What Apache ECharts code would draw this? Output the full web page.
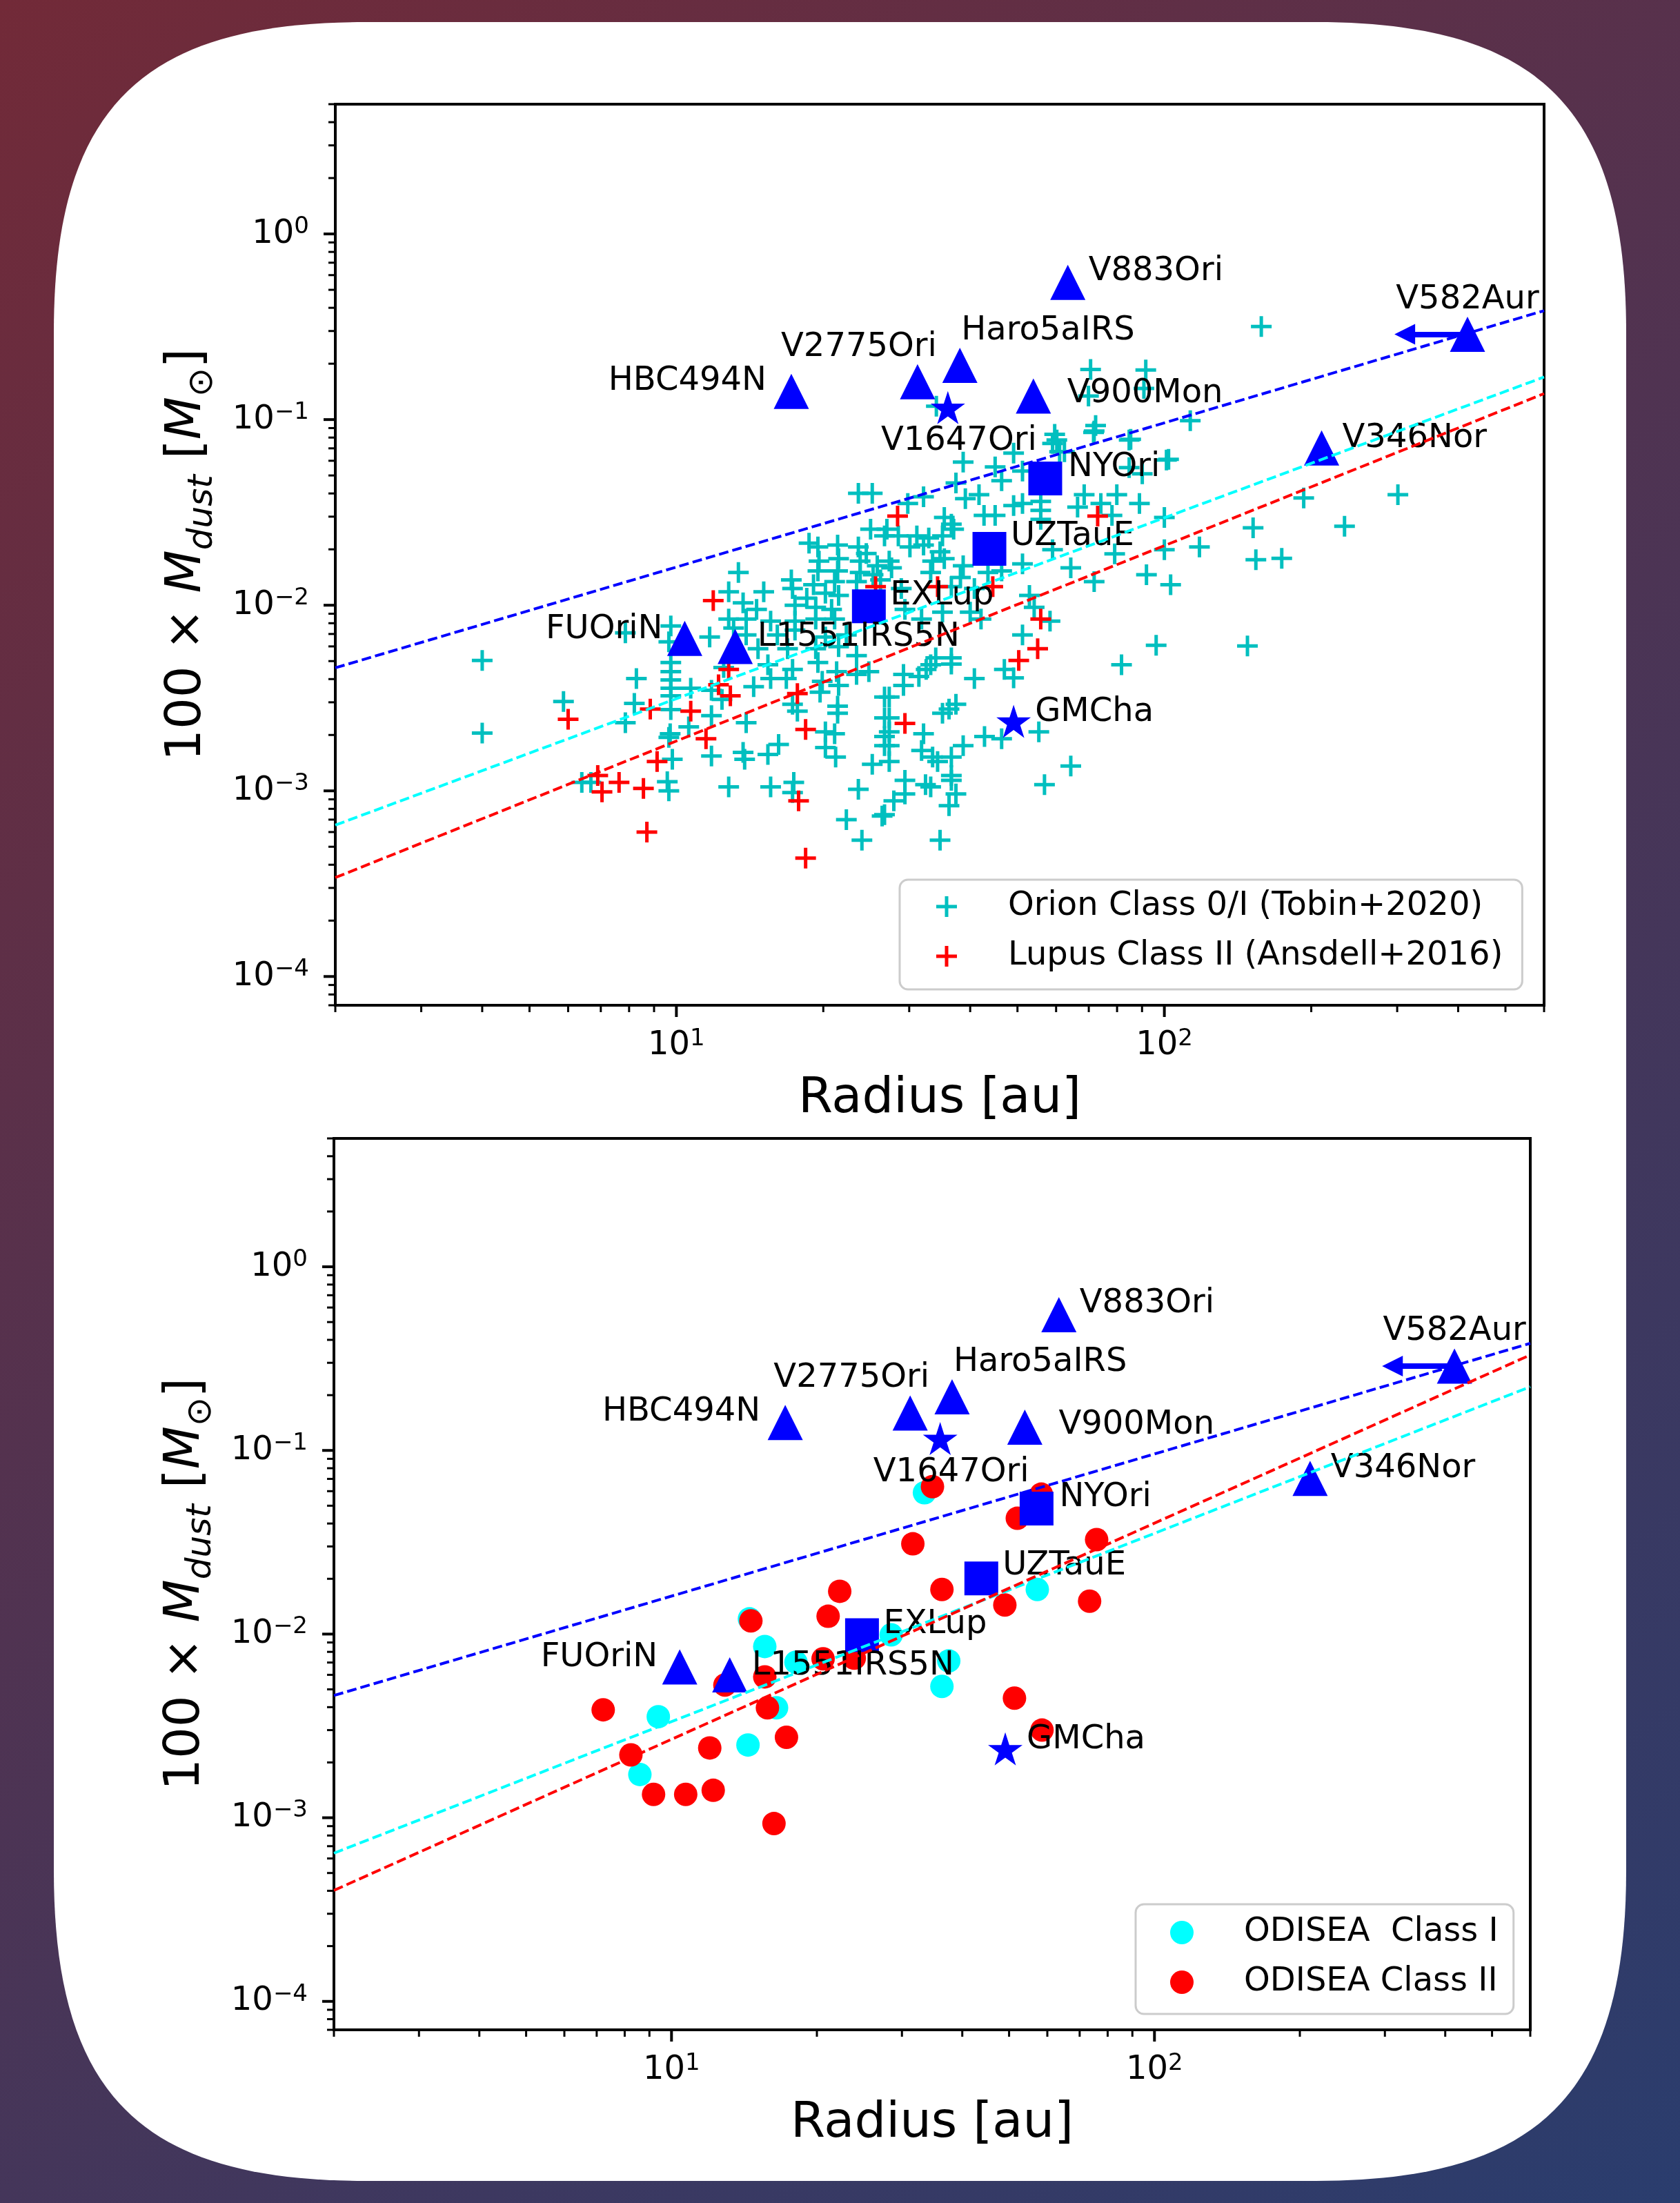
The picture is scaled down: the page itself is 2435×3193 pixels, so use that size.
<!DOCTYPE html>
<html>
<head>
<meta charset="utf-8">
<script src="https://cdn.jsdelivr.net/npm/echarts@6/dist/echarts.min.js"></script>
<style>
  html, body { margin: 0; padding: 0; }
  body {
    width: 2435px; height: 3193px; position: relative; overflow: hidden;
    background: linear-gradient(142.7deg, #722a38 0%, #2a3d6e 100%);
  }
  #card { position: absolute; left: 0; top: 0; }
  #chart { position: absolute; left: 0; top: 0; width: 2435px; height: 3193px; }
</style>
</head>
<body>
<svg id="card" width="2435" height="3193">
  <path fill="#ffffff" d="M528,32 H1907 C2231,32 2357,158 2357,482 V2711 C2357,3035 2231,3161 1907,3161 H528 C204,3161 78,3035 78,2711 V482 C78,158 204,32 528,32 Z"/>
</svg>
<div id="chart"></div>
<script>
// ---- data (radius [au], 100 x Mdust [Msun]) ----
const xMin = 2, xMax = 600;
const yMin = 7e-5, yMax = 5;

const orionPoints = [
  [23.6,0.0401],[25.2,0.0401],[25.0,0.0257],[26.7,0.0236],[18.7,0.0216],[19.5,0.0206],[21.4,0.0211],[23.6,0.0206],[24.5,0.0190],[19.6,0.0173],
  [21.5,0.0178],[23.8,0.0173],[25.8,0.0163],[19.5,0.0153],[21.4,0.0153],[23.8,0.0150],[25.3,0.0146],[13.4,0.0150],[17.2,0.0137],[19.1,0.0129],
  [21.1,0.0134],[23.4,0.0134],[26.2,0.0137],[12.8,0.0118],[15.1,0.0118],[17.3,0.0123],[18.5,0.0109],[20.2,0.0116],[21.5,0.0113],[13.7,0.0103],
  [14.6,0.0095],[17.5,0.0100],[19.3,0.00975],[20.8,0.0095],[12.8,0.00843],[13.9,0.00843],[15.6,0.00821],[17.5,0.00821],[19.3,0.00843],[21.1,0.00843],
  [9.74,0.00773],[7.86,0.0071],[11.7,0.00674],[13.1,0.00754],[13.9,0.00692],[16.1,0.00692],[17.5,0.00734],[20.2,0.00674],[22.3,0.00692],[9.65,0.00635],
  [14.7,0.00583],[16.9,0.00583],[19.3,0.00583],[21.5,0.00598],[23.4,0.00535],[8.28,0.00403],[9.74,0.00491],[9.74,0.00439],[9.74,0.00396],[9.74,0.00357],
  [9.74,0.00325],[9.74,0.00274],[8.2,0.00296],[7.86,0.00233],[10.7,0.00357],[9.71,0.00203],[10.6,0.00221],[11.8,0.00254],[11.8,0.00348],[12.4,0.00311],
  [12.5,0.00462],[14.4,0.00364],[15.4,0.00478],[15.6,0.00403],[16.8,0.00403],[17.3,0.00451],[17.3,0.00293],[17.7,0.00269],[13.9,0.00233],[19.5,0.00491],
  [19.9,0.00389],[19.7,0.0034],[21.3,0.00439],[21.5,0.0037],[23.4,0.00424],[24.8,0.00439],[21.4,0.00286],[21.4,0.00262],[20.2,0.00208],[21.1,0.00203],
  [20.2,0.00171],[21.2,0.00152],[26.7,0.0032],[26.7,0.00247],[26.7,0.00196],[26.7,0.00175],[25.2,0.00139],[9.81,0.00148],[11.8,0.00154],[13.7,0.00161],
  [13.8,0.00148],[15.4,0.00157],[16.2,0.00178],[9.58,0.00112],[9.65,0.001],[6.68,0.00111],[12.8,0.00105],[15.6,0.00105],[17.4,0.00111],[17.3,0.000979],
  [23.6,0.00102],[22.3,0.0007],[24.0,0.000542],[26.4,0.000731],
  [59.6,0.0832],[71.8,0.0868],[85.3,0.0783],[101,0.0605],[38.7,0.059],[45.0,0.0556],[49.1,0.066],[59.0,0.0744],[61.0,0.0671],[90.1,0.051],
  [46.4,0.0468],[51.2,0.0528],[37.4,0.0456],[41.7,0.0394],[32.1,0.0384],[29.8,0.0353],[39.1,0.0375],[51.2,0.0353],[49.1,0.0344],[55.8,0.0362],
  [55.8,0.0324],[68.5,0.0394],[79.9,0.0394],[88.9,0.0353],[66.4,0.0338],[74.1,0.0353],[78.1,0.0305],[100,0.0297],[42.7,0.0305],[45.0,0.0305],
  [55.8,0.029],[35.4,0.0297],[36.6,0.0273],[27.0,0.0257],[28.5,0.0236],[31.1,0.0236],[32.9,0.023],[35.1,0.0236],[37.0,0.0257],[30.1,0.0206],
  [32.1,0.0211],[34.7,0.0194],[27.3,0.0173],[27.6,0.0159],[33.5,0.0173],[35.4,0.0178],[38.7,0.0163],[33.2,0.015],[38.2,0.0141],[43.5,0.015],
  [46.4,0.0153],[51.2,0.0167],[59.0,0.0199],[64.3,0.0159],[71.8,0.0134],[79.1,0.0189],[100,0.0199],[91.9,0.0146],[103,0.0129],[28.9,0.0123],
  [36.6,0.0126],[40.8,0.0123],[52.9,0.0113],[54.1,0.00975],[29.4,0.0095],[31.8,0.00843],[35.1,0.00918],[40.0,0.00918],[42.1,0.00843],[51.2,0.00692],
  [58.3,0.00821],[96.2,0.00608],[34.0,0.00521],[36.6,0.00521],[29.2,0.00424],[29.2,0.0037],[31.4,0.00413],[32.5,0.00451],[33.2,0.00478],[36.6,0.00482],
  [40.8,0.00403],[47.0,0.00451],[49.1,0.00406],[81.7,0.00478],[27.3,0.0032],[27.3,0.00247],[27.3,0.00208],[27.3,0.00175],[27.3,0.00144],[35.1,0.00262],
  [36.2,0.00276],[37.4,0.00293],[32.1,0.00203],[31.8,0.00165],[33.5,0.00152],[34.3,0.00144],[36.6,0.00152],[38.7,0.00175],[42.8,0.00196],[46.4,0.00191],
  [55.3,0.00208],[36.6,0.00121],[36.6,0.00114],[29.4,0.00114],[32.4,0.00108],[33.2,0.00105],[37.4,0.000962],[36.2,0.000832],[29.4,0.000962],[27.9,0.000883],
  [26.7,0.000744],[34.7,0.000542],[56.8,0.00108],[64.3,0.00136],
  [158,0.317],[70.6,0.186],[91.6,0.185],[69.9,0.134],[90.8,0.147],[113,0.0987],[72.3,0.0929],[71.6,0.0853],[84.7,0.0776],[60.2,0.0776],
  [62.4,0.0671],[102,0.0611],[84.7,0.0551],[193,0.0378],[301,0.0394],[152,0.0261],[234,0.0266],[118,0.0206],[154,0.0176],[174,0.0179],
  [34.1,0.118],[148,0.00603],[4.0,0.00504],[4.0,0.00205],[5.87,0.00303],[6.4,0.00111],[9.65,0.00194]
];

const lupusPoints = [
  [11.9,0.0106],[25.6,0.0126],[8.84,0.00276],[10.7,0.00269],[12.8,0.00451],[12.9,0.00325],[12.2,0.00373],[11.5,0.00191],[17.7,0.00334],[18.4,0.00214],
  [9.13,0.00144],[6.9,0.00121],[7.04,0.000987],[7.63,0.00111],[8.56,0.00103],[8.7,0.0006],[17.8,0.000883],[18.4,0.000434],[6.0,0.00243],[28.4,0.0302],
  [73.0,0.0302],[34.3,0.0126],[44.5,0.0126],[55.8,0.00843],[55.0,0.00583],[50.3,0.00504],[29.4,0.00231]
];

const odiseaClassI = [
  [14.5,0.0121],[15.6,0.00856],[18.1,0.00702],[28.5,0.00991],[9.39,0.00355],[16.5,0.00397],
  [33.4,0.0588],[57.2,0.0175],[37.5,0.00714],[36.3,0.00519],[8.6,0.00172],[14.4,0.00249]
];

const odiseaClassII = [
  [22.3,0.0171],[21.1,0.0125],[14.6,0.0118],[23.9,0.00739],[20.6,0.00733],[15.6,0.00585],[12.9,0.00528],[7.22,0.00387],[15.8,0.00397],
  [34.7,0.0635],[58.3,0.0578],[52.0,0.0427],[31.6,0.031],[75.9,0.0327],[36.3,0.0175],[49.0,0.0144],[73.4,0.0151],[51.3,0.00448],[58.5,0.003],
  [8.24,0.0022],[9.18,0.00134],[10.7,0.00134],[12.2,0.00141],[12.0,0.0024],[17.3,0.00274],[16.3,0.000929]
];

// outbursting sources
const fuorNames  = ['V883Ori','V582Aur','Haro5aIRS','V2775Ori','HBC494N','V900Mon','V1647Ori','V346Nor','NYOri','UZTauE','EXLup','FUOriN','L1551IRS5N','GMCha'];
const fuorRadius = [63.4, 418, 38.1, 31.2, 17.2, 53.9, 36.0, 210, 57.0, 43.8, 24.8, 10.4, 13.2, 49.1];
const fuorMass   = [0.548, 0.288, 0.196, 0.160, 0.142, 0.134, 0.116, 0.0704, 0.0482, 0.0201, 0.00987, 0.00663, 0.0060, 0.00237];
const fuorType   = ['tri','tri','tri','tri','tri','tri','star','tri','sq','sq','sq','tri','tri','star'];

// V582Aur radius upper limit arrow
const v582From = [418, 0.288];
const v582To   = [311, 0.288];

// dashed fits, end points at axis limits
const fitTop = {
  blue: [[2, 0.0046], [600, 0.386]],
  cyan: [[2, 0.000654], [600, 0.1695]],
  red:  [[2, 0.000341], [600, 0.138]]
};
const fitBottom = {
  blue: [[2, 0.00463], [600, 0.383]],
  cyan: [[2, 0.000641], [600, 0.222]],
  red:  [[2, 0.000402], [600, 0.331]]
};

// ticks
const xMajorTicks = [10, 100];
const xMajorExp = ['1', '2'];
const xMinorTicks = [2,3,4,5,6,7,8,9,20,30,40,50,60,70,80,90,200,300,400,500,600];
const yMajorTicks = [1e-4, 1e-3, 1e-2, 1e-1, 1];
const yMajorExp = ['\u22124', '\u22123', '\u22122', '\u22121', '0'];
const yMinorTicks = [7e-5,8e-5,9e-5,
  2e-4,3e-4,4e-4,5e-4,6e-4,7e-4,8e-4,9e-4,
  2e-3,3e-3,4e-3,5e-3,6e-3,7e-3,8e-3,9e-3,
  0.02,0.03,0.04,0.05,0.06,0.07,0.08,0.09,
  0.2,0.3,0.4,0.5,0.6,0.7,0.8,0.9,
  2,3,4,5];

// ---- styling ----
const FONT = 'DejaVu Sans';
const plusPath = 'path://M12.5,0H17.5V12.5H30V17.5H17.5V30H12.5V17.5H0V12.5H12.5Z';
const starPath = 'path://M100,0L122.45,69.1L195.1,69.1L136.33,111.8L158.8,180.9L100,138.2L41.2,180.9L63.67,111.8L4.9,69.1L77.55,69.1Z';
const markerSymbol = { tri: 'triangle', sq: 'rect', star: starPath };
const markerSize = { tri: [51, 51], sq: [49, 49], star: [50, 48] };

const labelPlace = {
  V883Ori:    { align: 'left',   offset: [30, -16] },
  V582Aur:    { align: 'center', offset: [0, -50] },
  Haro5aIRS:  { align: 'left',   offset: [2, -50] },
  V2775Ori:   { align: 'right',  offset: [28, -50] },
  HBC494N:    { align: 'right',  offset: [-36, -15] },
  V900Mon:    { align: 'left',   offset: [49, -3] },
  V1647Ori:   { align: 'center', offset: [16, 49] },
  V346Nor:    { align: 'left',   offset: [30, -14] },
  NYOri:      { align: 'left',   offset: [33, -16] },
  UZTauE:     { align: 'left',   offset: [31, -18] },
  EXLup:      { align: 'left',   offset: [31, -15] },
  FUOriN:     { align: 'right',  offset: [-32, -13] },
  L1551IRS5N: { align: 'left',   offset: [32, -13] },
  GMCha:      { align: 'left',   offset: [31, -13] }
};

const tickRich = {
  b: { fontSize: 48, fontFamily: FONT, color: '#000', verticalAlign: 'middle' },
  s: { fontSize: 34, fontFamily: FONT, color: '#000', verticalAlign: 'middle', padding: [0, 0, 20, 0] }
};

function expLabel(ticks, exps) {
  return function (v) {
    const i = ticks.findIndex(t => Math.abs(v / t - 1) < 1e-6);
    return i < 0 ? '' : '{b|10}{s|' + exps[i] + '}';
  };
}

const yName = '{n|100 \u00d7 }{i|M}{s|dust}{n| [}{i|M}{s|\u2299}{n|]}';
const yNameRich = {
  n: { fontSize: 72, fontFamily: FONT, color: '#000', verticalAlign: 'middle' },
  i: { fontSize: 72, fontFamily: FONT, fontStyle: 'italic', color: '#000', verticalAlign: 'middle' },
  s: { fontSize: 50, fontFamily: FONT, fontStyle: 'italic', color: '#000', verticalAlign: 'middle', padding: [46, 0, 0, 0] }
};

function xAxisCfg(g) {
  return {
    type: 'log', logBase: 10, gridIndex: g, min: xMin, max: xMax, position: 'bottom',
    name: 'Radius [au]', nameLocation: 'middle', nameGap: 100, nameMoveOverlap: false,
    nameTextStyle: { fontSize: 72, fontFamily: FONT, color: '#000' },
    axisLine: { show: false }, axisTick: { show: false },
    splitLine: { show: false }, minorTick: { show: false }, minorSplitLine: { show: false },
    axisLabel: { margin: 32, formatter: expLabel(xMajorTicks, xMajorExp), rich: tickRich,
      color: '#000', fontFamily: FONT, fontSize: 48, hideOverlap: false }
  };
}

function yAxisCfg(g) {
  return {
    type: 'log', logBase: 10, gridIndex: g, min: yMin, max: yMax, position: 'left',
    name: yName, nameLocation: 'middle', nameGap: 167, nameRotate: 90, nameMoveOverlap: false,
    nameTextStyle: { rich: yNameRich, fontSize: 72, fontFamily: FONT, color: '#000' },
    axisLine: { show: false }, axisTick: { show: false },
    splitLine: { show: false }, minorTick: { show: false }, minorSplitLine: { show: false },
    axisLabel: { margin: 38, formatter: expLabel(yMajorTicks, yMajorExp), rich: tickRich,
      color: '#000', fontFamily: FONT, fontSize: 48, hideOverlap: false }
  };
}

function tickSeries(g, dir, values, len, width) {
  return {
    type: 'scatter', xAxisIndex: g, yAxisIndex: g, silent: true, clip: false, z: 6,
    symbol: 'rect',
    symbolSize: dir === 'x' ? [width, len] : [len, width],
    symbolOffset: dir === 'x' ? [0, len / 2] : [-len / 2, 0],
    itemStyle: { color: '#000', opacity: 1 },
    data: values.map(v => dir === 'x' ? [v, yMin] : [xMin, v])
  };
}

function fuorSeries(g) {
  return {
    type: 'scatter', xAxisIndex: g, yAxisIndex: g, silent: true, clip: false, z: 4,
    itemStyle: { color: '#0000ff', opacity: 1 },
    label: { show: true, position: 'inside', formatter: '{b}', color: '#000', opacity: 1,
      fontSize: 48, fontFamily: FONT, verticalAlign: 'middle' },
    data: fuorNames.map((n, i) => ({
      name: n,
      value: [fuorRadius[i], fuorMass[i]],
      symbol: markerSymbol[fuorType[i]],
      symbolSize: markerSize[fuorType[i]],
      label: labelPlace[n]
    })),
    markLine: {
      silent: true, animation: false,
      symbol: ['none', 'triangle'], symbolSize: 30,
      label: { show: false },
      lineStyle: { type: 'solid', width: 8, color: '#0000ff', opacity: 1 },
      data: [[{ coord: v582From }, { coord: v582To }]]
    }
  };
}

function fitSeries(g, pts, color) {
  return {
    type: 'line', xAxisIndex: g, yAxisIndex: g, silent: true, z: 5,
    symbol: 'none', data: pts,
    lineStyle: { color: color, width: 4, type: [14, 6], opacity: 1 }
  };
}

function dotSeries(name, g, z, symbol, size, color, data) {
  return {
    name: name, type: 'scatter', xAxisIndex: g, yAxisIndex: g, silent: true, z: z,
    symbol: symbol, symbolSize: size, itemStyle: { color: color, opacity: 1 }, data: data
  };
}

const legendCommon = {
  orient: 'vertical', selectedMode: false, itemGap: 24,
  backgroundColor: 'rgba(255,255,255,0.8)', borderColor: '#cccccc', borderWidth: 3, borderRadius: 12
};

const ORION = 'Orion Class 0/I (Tobin+2020)';
const LUPUS = 'Lupus Class II (Ansdell+2016)';
const ODI = 'ODISEA  Class I';
const ODII = 'ODISEA Class II';

const option = {
  animation: false,
  textStyle: { fontFamily: FONT },
  grid: [
    { left: 486, top: 151, width: 1752, height: 1306, show: true, borderColor: '#000', borderWidth: 4,
      backgroundColor: 'transparent', containLabel: false, outerBoundsMode: 'none' },
    { left: 484, top: 1650, width: 1734, height: 1292, show: true, borderColor: '#000', borderWidth: 4,
      backgroundColor: 'transparent', containLabel: false, outerBoundsMode: 'none' }
  ],
  xAxis: [xAxisCfg(0), xAxisCfg(1)],
  yAxis: [yAxisCfg(0), yAxisCfg(1)],
  legend: [
    Object.assign({}, legendCommon, {
      left: 1304, top: 1275, itemWidth: 30, itemHeight: 30, padding: [15, 28, 24, 53],
      data: [{ name: ORION, icon: plusPath }, { name: LUPUS, icon: plusPath }],
      textStyle: { fontSize: 48, lineHeight: 48, fontFamily: FONT, color: '#000', padding: [0, 0, 0, 69] }
    }),
    Object.assign({}, legendCommon, {
      left: 1646, top: 2760, itemWidth: 34, itemHeight: 34, padding: [17, 22, 22, 50],
      data: [{ name: ODI, icon: 'circle' }, { name: ODII, icon: 'circle' }],
      textStyle: { fontSize: 48, lineHeight: 48, fontFamily: FONT, color: '#000', padding: [0, 0, 0, 68] }
    })
  ],
  series: [
    dotSeries(ORION, 0, 2, plusPath, 30, '#00bfbf', orionPoints),
    dotSeries(LUPUS, 0, 3, plusPath, 30, '#ff0000', lupusPoints),
    fuorSeries(0),
    fitSeries(0, fitTop.blue, '#0000ff'),
    fitSeries(0, fitTop.cyan, '#00ffff'),
    fitSeries(0, fitTop.red, '#ff0000'),
    tickSeries(0, 'x', xMajorTicks, 17, 4),
    tickSeries(0, 'x', xMinorTicks, 10, 3),
    tickSeries(0, 'y', yMajorTicks, 17, 4),
    tickSeries(0, 'y', yMinorTicks, 10, 3),

    dotSeries(ODI, 1, 2, 'circle', 34, '#00ffff', odiseaClassI),
    dotSeries(ODII, 1, 3, 'circle', 34, '#ff0000', odiseaClassII),
    fuorSeries(1),
    fitSeries(1, fitBottom.blue, '#0000ff'),
    fitSeries(1, fitBottom.cyan, '#00ffff'),
    fitSeries(1, fitBottom.red, '#ff0000'),
    tickSeries(1, 'x', xMajorTicks, 17, 4),
    tickSeries(1, 'x', xMinorTicks, 10, 3),
    tickSeries(1, 'y', yMajorTicks, 17, 4),
    tickSeries(1, 'y', yMinorTicks, 10, 3)
  ]
};

const chart = echarts.init(document.getElementById('chart'), null, { renderer: 'canvas', width: 2435, height: 3193 });
chart.setOption(option);
</script>
</body>
</html>
